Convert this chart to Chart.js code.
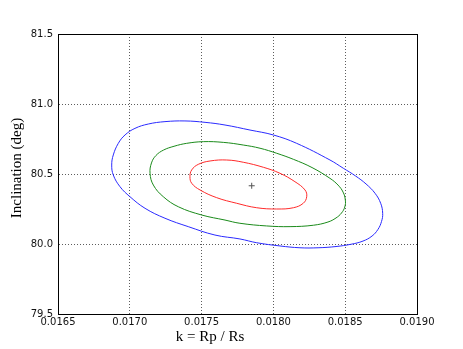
<!DOCTYPE html>
<html><head><meta charset="utf-8">
<script src="https://cdn.jsdelivr.net/npm/chart.js@4/dist/chart.umd.min.js"></script>
<style>html,body{margin:0;padding:0;background:#fff}#wrap{width:463px;height:349px}</style>
</head><body><div id="wrap"><canvas id="c" width="463" height="349"></canvas></div>
<script>
const xTicks = [0.0165, 0.0170, 0.0175, 0.0180, 0.0185, 0.0190];
const yTicks = [79.5, 80.0, 80.5, 81.0, 81.5];
const xTitle = "k = Rp / Rs";
const yTitle = "Inclination (deg)";

// closed contours (first point not repeated; the curve is closed when drawn)
const blueK = [0.016874,0.016885,0.016920,0.016967,0.017036,0.017129,0.017245,0.017384,0.017524,0.017663,0.017837,0.017999,0.018162,0.018394,0.018487,0.018572,0.018645,0.018708,0.018747,0.018761,0.018753,0.018728,0.018687,0.018624,0.018540,0.018436,0.018311,0.018185,0.018046,0.017884,0.017767,0.017593,0.017407,0.017245,0.017106,0.017001,0.016932,0.016885];
const blueI = [80.564,80.636,80.719,80.779,80.826,80.857,80.874,80.879,80.869,80.850,80.814,80.779,80.719,80.600,80.541,80.486,80.429,80.362,80.291,80.219,80.161,80.104,80.057,80.021,79.998,79.982,79.973,79.973,79.986,80.009,80.036,80.064,80.124,80.184,80.255,80.338,80.409,80.493];
const greenK = [0.017141,0.017151,0.017182,0.017235,0.017308,0.017396,0.017512,0.017651,0.017790,0.017907,0.018023,0.018139,0.018269,0.018394,0.018450,0.018485,0.018501,0.018497,0.018474,0.018436,0.018380,0.018278,0.018116,0.017953,0.017767,0.017663,0.017501,0.017338,0.017233,0.017164];
const greenI = [80.505,80.579,80.632,80.671,80.698,80.719,80.731,80.726,80.707,80.684,80.648,80.605,80.546,80.469,80.421,80.371,80.314,80.264,80.221,80.186,80.157,80.134,80.124,80.129,80.148,80.171,80.207,80.266,80.338,80.421];
const redK = [0.017419,0.017431,0.017477,0.017559,0.017675,0.017790,0.017930,0.018046,0.018150,0.018220,0.018232,0.018208,0.018139,0.018023,0.017884,0.017744,0.017605,0.017489,0.017431];
const redI = [80.481,80.529,80.569,80.593,80.600,80.584,80.548,80.505,80.445,80.386,80.338,80.291,80.259,80.250,80.259,80.291,80.331,80.386,80.434];
const bestK = [0.017849];
const bestI = [80.416];

const pts = (xs, ys) => xs.map((x, i) => ({x: x, y: ys[i]}));

const closeLoops = {
  id: 'closeLoops',
  afterDatasetUpdate(chart, args) {
    const ds = chart.data.datasets[args.index];
    if (ds.closed && args.meta.dataset) {
      args.meta.dataset._loop = true;
      args.meta.dataset._fullLoop = true;
    }
  }
};

const frame = {
  id: 'frame',
  afterDatasetsDraw(chart) {
    const a = chart.chartArea, ctx = chart.ctx;
    ctx.save();
    ctx.strokeStyle = '#000';
    ctx.lineWidth = 1;
    ctx.strokeRect(Math.round(a.left) + 0.5, Math.round(a.top) + 0.5, Math.round(a.right - a.left), Math.round(a.bottom - a.top));
    ctx.fillStyle = '#000';
    ctx.font = '15px "Liberation Serif", "DejaVu Serif", serif';
    ctx.textAlign = 'center';
    ctx.textBaseline = 'middle';
    ctx.fillText(xTitle, 210, 337);
    ctx.translate(17, 168);
    ctx.rotate(-Math.PI / 2);
    ctx.fillText(yTitle, 0, 0);
    ctx.restore();
  }
};

new Chart(document.getElementById('c'), {
  type: 'scatter',
  data: {
    datasets: [
      {data: pts(redK, redI), closed: true, showLine: true, borderColor: '#ff2a2a', borderWidth: 1, pointRadius: 0, tension: 0.4, fill: false},
      {data: pts(greenK, greenI), closed: true, showLine: true, borderColor: '#1a8a1a', borderWidth: 1, pointRadius: 0, tension: 0.4, fill: false},
      {data: pts(blueK, blueI), closed: true, showLine: true, borderColor: '#2a2aff', borderWidth: 1, pointRadius: 0, tension: 0.4, fill: false},
      {data: pts(bestK, bestI), showLine: false, pointStyle: 'cross', pointRadius: 3, borderColor: '#555', borderWidth: 1}
    ]
  },
  options: {
    responsive: false,
    animation: false,
    layout: {padding: {left: 0, right: 46, top: 34, bottom: 0}},
    plugins: {legend: {display: false}, tooltip: {enabled: false}},
    scales: {
      x: {
        type: 'linear', min: xTicks[0], max: xTicks[xTicks.length - 1],
        afterBuildTicks: s => { s.ticks = xTicks.map(v => ({value: v})); },
        afterFit: s => { s.height = 35; },
        ticks: {color: '#111', font: {family: '"DejaVu Sans", sans-serif', size: 10}, padding: 2, maxRotation: 0,
          callback: v => v.toFixed(4)},
        grid: {color: '#333', lineWidth: 0.8, drawTicks: false},
        border: {display: true, color: '#000', dash: [1, 2]}
      },
      y: {
        type: 'linear', min: yTicks[0], max: yTicks[yTicks.length - 1],
        afterBuildTicks: s => { s.ticks = yTicks.map(v => ({value: v})); },
        afterFit: s => { s.width = 58; },
        ticks: {color: '#111', font: {family: '"DejaVu Sans", sans-serif', size: 10}, padding: 5,
          callback: v => v.toFixed(1)},
        grid: {color: '#333', lineWidth: 0.8, drawTicks: false},
        border: {display: true, color: '#000', dash: [1, 2]}
      }
    }
  },
  plugins: [closeLoops, frame]
});
</script>
</body></html>
